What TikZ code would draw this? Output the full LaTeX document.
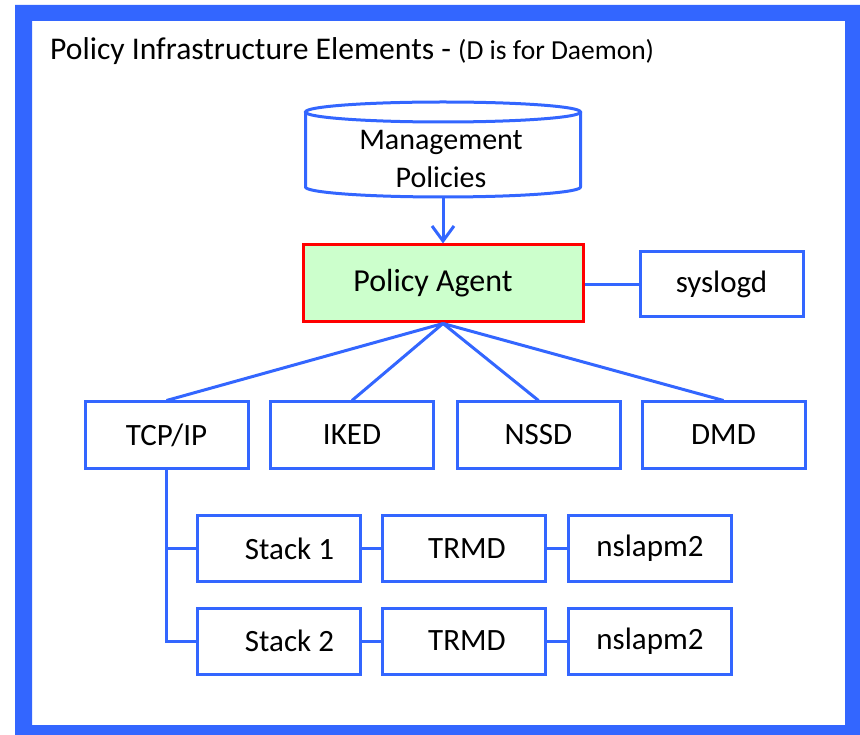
\documentclass[tikz,border=0pt]{standalone}
\usepackage{fontspec}
\setmainfont{Carlito}
\usetikzlibrary{arrows.meta}
\definecolor{fblue}{HTML}{3366FF}
\definecolor{pgreen}{HTML}{CCFFCC}
\begin{document}
\begin{tikzpicture}[x=1pt,y=-1pt,
  txt/.style={font=\fontsize{31}{36}\selectfont},
  box/.style={draw=fblue, line width=3pt, fill=white, minimum width=163pt, minimum height=66pt, inner sep=0pt, txt},
  conn/.style={draw=fblue, line width=3pt}]
\useasboundingbox (0,0) rectangle (860,735);
\fill[fblue, even odd rule] (15,5) rectangle (860,735) (32,21) rectangle (845,725);
% title
\node[anchor=base west, inner sep=0pt] (title) at (50,60) {\fontsize{31.6}{36}\selectfont Policy Infrastructure Elements - {\fontsize{27.5}{30}\selectfont (D is for Daemon)}};
% cylinder
\node[minimum width=275pt, minimum height=95pt, inner sep=0pt] (mp) at (443,149.5) {};
\draw[conn, line join=round] (305.5,112) -- (305.5,187) -- plot[domain=180:360,samples=60] ({443+137.5*cos(\x)},{187-10*sin(\x)}) -- (580.5,112);
\draw[conn] (443,112) ellipse [x radius=137.5, y radius=10];
\node[font=\fontsize{30}{34}\selectfont, inner sep=0pt] (mpt1) at (441,142) {Management};
\node[font=\fontsize{30}{34}\selectfont, inner sep=0pt] (mpt2) at (441,177) {Policies};
% policy agent
\node[draw=red, fill=pgreen, line width=3pt, minimum width=280pt, minimum height=77pt, inner sep=0pt, font=\fontsize{32}{36}\selectfont] (pa) at (443,283.5) {Policy Agent\hspace*{20pt}};
\draw[conn, -{Straight Barb[length=15pt,width=22pt]}] (mp.south) -- (pa.north);
\node[box, minimum height=65pt] (sys) at (721.5,284.5) {syslogd};
\draw[conn] (pa.east |- sys.west) -- (sys.west);
% second row
\node[box] (tcp) at (166.5,435) {TCP/IP};
\node[box] (iked) at (352,435) {IKED};
\node[box] (nssd) at (538.5,435) {NSSD};
\node[box] (dmd) at (723.5,435) {DMD};
\foreach \n in {tcp,iked,nssd,dmd} \draw[conn] (pa.south) -- (\n.north);
% stacks
\node[box] (s1) at (278.5,548.5) {\hspace*{22pt}Stack 1};
\node[box] (t1) at (464,548.5) {\hspace*{6pt}TRMD};
\node[box] (n1) at (650,548.5) {nslapm2};
\node[box] (s2) at (278.5,641) {\hspace*{22pt}Stack 2};
\node[box] (t2) at (464,641) {\hspace*{6pt}TRMD};
\node[box] (n2) at (650,641) {nslapm2};
\draw[conn] (tcp.south) -- (tcp.south |- s2.west) -- (s2.west);
\draw[conn] (tcp.south |- s1.west) -- (s1.west);
\draw[conn] (s1) -- (t1);
\draw[conn] (t1) -- (n1);
\draw[conn] (s2) -- (t2);
\draw[conn] (t2) -- (n2);
\end{tikzpicture}
\end{document}
